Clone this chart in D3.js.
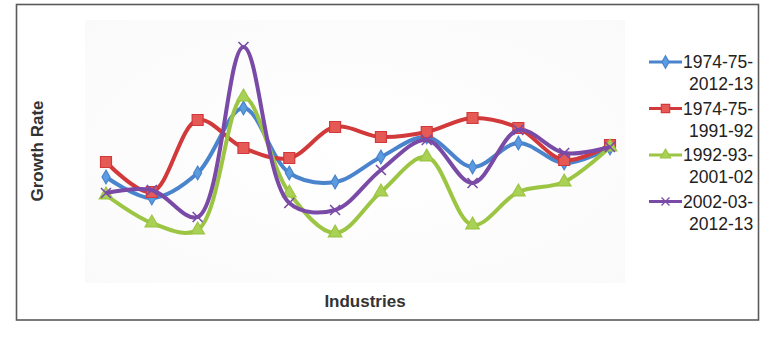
<!DOCTYPE html>
<html>
<head>
<meta charset="utf-8">
<script src="https://cdn.jsdelivr.net/npm/d3@7"></script>
<style>
  body { margin: 0; background: #fff; }
  text { font-family: "Liberation Sans", Arial, sans-serif; }
</style>
</head>
<body>
<div id="chart"></div>
<script>
// industries (no labels shown on the axis)
var industries = ["1", "2", "3", "4", "5", "6", "7", "8", "9", "10", "11", "12"];

// growth rate values (arbitrary units, no axis printed)
var s1974_2013 = [4.9, 3.85, 5.1, 8.35, 5.1, 4.65, 5.9, 6.9, 5.4, 6.6, 5.6, 6.35];
var s1974_1992 = [5.65, 4.15, 7.75, 6.35, 5.85, 7.4, 6.9, 7.15, 7.85, 7.35, 5.75, 6.5];
var s1993_2002 = [4.0, 2.6, 2.25, 8.9, 4.1, 2.1, 4.15, 5.9, 2.5, 4.15, 4.65, 6.4];
var s2003_2013 = [4.1, 4.25, 2.9, 11.4, 3.6, 3.25, 5.25, 6.75, 4.6, 7.25, 6.1, 6.4];

var seriesNames = [["1974-75-", "2012-13"], ["1974-75-", "1991-92"], ["1992-93-", "2001-02"], ["2002-03-", "2012-13"]];

var series = [
  { name: seriesNames[0], values: s1974_2013, color: "#4a84cc", fill: "#5b9be0", shape: "diamond" },
  { name: seriesNames[1], values: s1974_1992, color: "#d2393a", fill: "#e65a55", shape: "square" },
  { name: seriesNames[2], values: s1993_2002, color: "#9cc543", fill: "#a9d155", shape: "triangle" },
  { name: seriesNames[3], values: s2003_2013, color: "#7a4ba6", fill: "#7a4ba6", shape: "x" }
];

var W = 784, H = 348;
var svg = d3.select("#chart").append("svg")
  .attr("width", W)
  .attr("height", H);

var defs = svg.append("defs");
var grad = defs.append("radialGradient").attr("id", "plotbg")
  .attr("cx", "50%").attr("cy", "50%").attr("r", "70%");
grad.append("stop").attr("offset", "0%").attr("stop-color", "#ffffff");
grad.append("stop").attr("offset", "100%").attr("stop-color", "#fafafa");

// outer frame
svg.append("rect")
  .attr("x", 16.5).attr("y", 4.5)
  .attr("width", 742).attr("height", 315.5)
  .attr("fill", "#fff")
  .attr("stroke", "#5a5a5a")
  .attr("stroke-width", 1.6);

// plot area
svg.append("rect")
  .attr("x", 85).attr("y", 20)
  .attr("width", 540).attr("height", 263)
  .attr("fill", "url(#plotbg)");

var x = d3.scalePoint()
  .domain(industries)
  .range([106, 610]);

var y = d3.scaleLinear()
  .domain([0, 12])
  .range([275, 35]);

var line = d3.line()
  .x(function(d, i) { return x(industries[i]); })
  .y(function(d) { return y(d); })
  .curve(d3.curveCatmullRom.alpha(0.5));

function markerPath(shape) {
  if (shape === "diamond") return d3.symbol().type(d3.symbolDiamond).size(55)();
  if (shape === "square") return d3.symbol().type(d3.symbolSquare).size(120)();
  if (shape === "triangle") return d3.symbol().type(d3.symbolTriangle).size(80)();
  return "M-5,-5L5,5M-5,5L5,-5";
}

series.forEach(function(s) {
  var g = svg.append("g");
  g.append("path")
    .datum(s.values)
    .attr("fill", "none")
    .attr("stroke", s.color)
    .attr("stroke-width", 4)
    .attr("stroke-linejoin", "round")
    .attr("d", line);

  g.selectAll(".m")
    .data(s.values)
    .enter().append("path")
    .attr("class", "m")
    .attr("transform", function(d, i) { return "translate(" + x(industries[i]) + "," + y(d) + ")"; })
    .attr("d", markerPath(s.shape))
    .attr("fill", s.shape === "x" ? "none" : s.fill)
    .attr("stroke", s.color)
    .attr("stroke-width", s.shape === "x" ? 1.6 : 1.2);
});

// axis titles
svg.append("text")
  .attr("transform", "translate(43,151) rotate(-90)")
  .attr("text-anchor", "middle")
  .attr("font-size", 17)
  .attr("font-weight", "bold")
  .attr("fill", "#333")
  .text("Growth Rate");

svg.append("text")
  .attr("x", 365).attr("y", 307)
  .attr("text-anchor", "middle")
  .attr("font-size", 17)
  .attr("font-weight", "bold")
  .attr("fill", "#333")
  .text("Industries");

// legend
var legend = svg.append("g");
series.forEach(function(s, i) {
  var ly = 62 + i * 46.5;
  var lg = legend.append("g");
  lg.append("line")
    .attr("x1", 649).attr("x2", 682)
    .attr("y1", ly).attr("y2", ly)
    .attr("stroke", s.color)
    .attr("stroke-width", 3);
  lg.append("path")
    .attr("transform", "translate(665.5," + ly + ")")
    .attr("d", s.shape === "x" ? "M-4,-4L4,4M-4,4L4,-4" : d3.symbol().type(
      s.shape === "diamond" ? d3.symbolDiamond : s.shape === "square" ? d3.symbolSquare : d3.symbolTriangle
    ).size(s.shape === "square" ? 70 : 45)())
    .attr("fill", s.shape === "x" ? "none" : s.fill)
    .attr("stroke", s.color)
    .attr("stroke-width", 1.2);
  lg.append("text")
    .attr("x", 683).attr("y", ly + 6)
    .attr("font-size", 17.5)
    .attr("fill", "#222")
    .text(s.name[0]);
  lg.append("text")
    .attr("x", 689).attr("y", ly + 28)
    .attr("font-size", 17.5)
    .attr("fill", "#222")
    .text(s.name[1]);
});
</script>
</body>
</html>
